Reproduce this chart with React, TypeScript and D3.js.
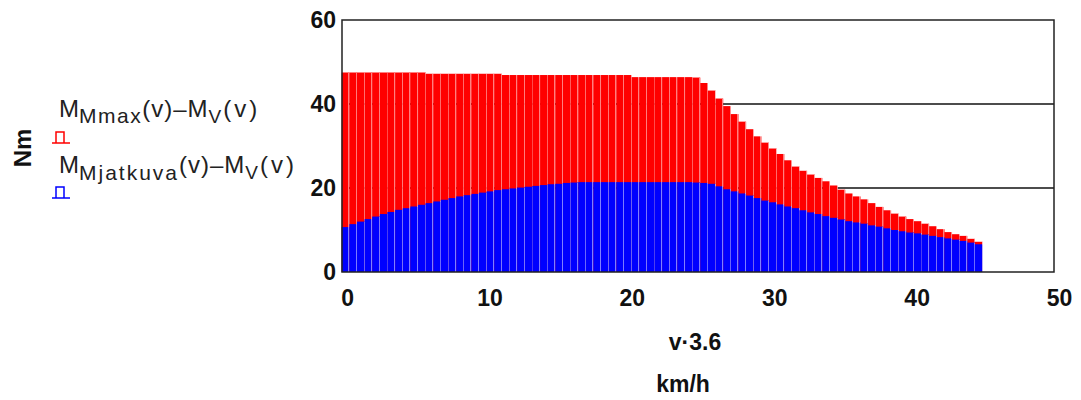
import * as d3 from "d3";

// speed v·3.6 in km/h, one bar per value
const speeds = [
  0, 0.54, 1.07, 1.61, 2.14, 2.68, 3.21, 3.75, 4.29, 4.82, 5.36, 5.89, 6.43, 6.96, 7.5, 8.04,
  8.57, 9.11, 9.64, 10.18, 10.71, 11.25, 11.79, 12.32, 12.86, 13.39, 13.93, 14.46, 15.0, 15.54,
  16.07, 16.61, 17.14, 17.68, 18.21, 18.75, 19.29, 19.82, 20.36, 20.89, 21.43, 21.96, 22.5,
  23.04, 23.57, 24.11, 24.64, 25.18, 25.71, 26.25, 26.79, 27.32, 27.86, 28.39, 28.93, 29.46,
  30.0, 30.54, 31.07, 31.61, 32.14, 32.68, 33.21, 33.75, 34.29, 34.82, 35.36, 35.89, 36.43,
  36.96, 37.5, 38.04, 38.57, 39.11, 39.64, 40.18, 40.71, 41.25, 41.79, 42.32, 42.86, 43.39,
  43.93, 44.46,
];

// M_Mmax(v) - M_v(v), Nm
const maxTorque = [
  47.5, 47.5, 47.5, 47.5, 47.5, 47.5, 47.5, 47.5, 47.5, 47.5, 47.5,
  47.2, 47.2, 47.2, 47.2, 47.2, 47.2, 47.2, 47.2, 47.2, 47.2,
  46.9, 46.9, 46.9, 46.9, 46.9, 46.9, 46.9, 46.9, 46.9, 46.9, 46.9, 46.9, 46.9, 46.9, 46.9,
  46.9, 46.9,
  46.4, 46.4, 46.4, 46.4, 46.4, 46.4, 46.4, 46.4, 46.3,
  45.0, 43.2, 41.3, 39.5, 37.6, 35.8, 34.0, 32.3, 30.8, 29.4, 28.1, 26.6, 25.1, 24.1, 23.2,
  22.4, 21.6, 20.6, 19.6, 18.7, 18.0, 17.3, 16.4, 15.5, 14.7, 13.9, 13.2, 12.6, 12.1, 11.5,
  10.9, 10.2, 9.5, 9.0, 8.6, 7.9, 7.2,
];

// M_Mjatkuva(v) - M_v(v), Nm
const contTorque = [
  10.7, 11.4, 12.0, 12.6, 13.2, 13.8, 14.3, 14.8, 15.2, 15.6, 16.0, 16.4, 16.8, 17.2, 17.6,
  18.0, 18.3, 18.6, 18.9, 19.2, 19.5, 19.7, 19.9, 20.1, 20.3, 20.5, 20.7, 20.9, 21.0, 21.2,
  21.3,
  21.4, 21.4, 21.4, 21.4, 21.4, 21.4, 21.4, 21.4, 21.4, 21.4, 21.4, 21.4, 21.4, 21.4, 21.4,
  21.3, 21.2, 21.0, 20.4, 19.7, 19.2, 18.7, 18.2, 17.6, 17.0, 16.6, 16.1, 15.6, 15.2, 14.7,
  14.2, 13.8, 13.3, 12.9, 12.5, 12.1, 11.8, 11.5, 11.1, 10.8, 10.4, 10.0, 9.7, 9.4, 9.2, 8.9,
  8.6, 8.3, 8.0, 7.7, 7.4, 7.0, 6.6,
];

const xTicks = [0, 10, 20, 30, 40, 50];
const yTicks = [0, 20, 40, 60];
const gridTicks = [20, 40];

const FONT = "'Liberation Sans', Arial, sans-serif";

export default function App() {
  const x = d3.scaleLinear().domain([-0.25, 49.75]).range([342, 1054]);
  const y = d3.scaleLinear().domain([0, 60]).range([272, 20]);
  const [x0, x1] = x.range();
  const [y0, y1] = y.range();
  const w = x(speeds[1]) - x(speeds[0]);

  const bars = (vals: number[], fill: string) =>
    vals.map((d, i) => {
      const left = x(speeds[i]) - w / 2;
      return (
        <g key={i}>
          <rect x={left} y={y(d)} width={w} height={y0 - y(d)} fill={fill} />
          <rect
            x={Math.round(left + w) - 1}
            y={y(d)}
            width={1}
            height={y0 - y(d)}
            fill="#fff"
            opacity={0.5}
            shapeRendering="crispEdges"
          />
        </g>
      );
    });

  return (
    <svg
      width={1081}
      height={400}
      style={{ position: "absolute", left: 0, top: 0, background: "#fff" }}
      fontFamily={FONT}
    >
      {gridTicks.map((t) => (
        <line key={t} x1={x0} x2={x1} y1={y(t)} y2={y(t)} stroke="#111" strokeWidth={1.6} />
      ))}

      <g>{bars(maxTorque, "#ff0000")}</g>
      <g>{bars(contTorque, "#0000ff")}</g>

      <rect x={x0} y={y1} width={x1 - x0} height={y0 - y1} fill="none" stroke="#222" strokeWidth={1.5} />

      {yTicks.map((t) => (
        <text key={t} x={336} y={y(t)} dy="0.36em" textAnchor="end" fontSize={23} fontWeight="bold" fill="#111">
          {t}
        </text>
      ))}
      {xTicks.map((t) => (
        <text key={t} x={x(t) + 2} y={306} textAnchor="middle" fontSize={23} fontWeight="bold" fill="#111">
          {t}
        </text>
      ))}

      <text x={695} y={350} textAnchor="middle" fontSize={23} fontWeight="bold" fill="#111">
        v·3.6
      </text>
      <text x={683} y={392} textAnchor="middle" fontSize={23} fontWeight="bold" fill="#111">
        km/h
      </text>

      <text
        transform="translate(31,148) rotate(-90)"
        textAnchor="middle"
        fontSize={24}
        fontWeight="bold"
        fill="#111"
      >
        Nm
      </text>

      {/* legend */}
      <text x={59} y={117} fontSize={24} fill="#222">
        <tspan>M</tspan>
        <tspan dy={6} fontSize={21} letterSpacing={1.5}>Mmax</tspan>
        <tspan dy={-6} letterSpacing={1}>(v)–M</tspan>
        <tspan dy={6} fontSize={19}>V</tspan>
        <tspan dy={-6} dx={2} letterSpacing={3}>(v)</tspan>
      </text>
      <path d="M52,143H70M56,143V132H64V143" fill="none" stroke="#ff0000" strokeWidth={1.5} />

      <text x={59} y={173} fontSize={24} fill="#222">
        <tspan>M</tspan>
        <tspan dy={7} fontSize={21} letterSpacing={2}>Mjatkuva</tspan>
        <tspan dy={-7} letterSpacing={1}>(v)–M</tspan>
        <tspan dy={6} fontSize={19}>V</tspan>
        <tspan dy={-6} dx={2} letterSpacing={3}>(v)</tspan>
      </text>
      <path d="M52,198H70M56,198V187H64V198" fill="none" stroke="#0000ff" strokeWidth={1.5} />
    </svg>
  );
}
